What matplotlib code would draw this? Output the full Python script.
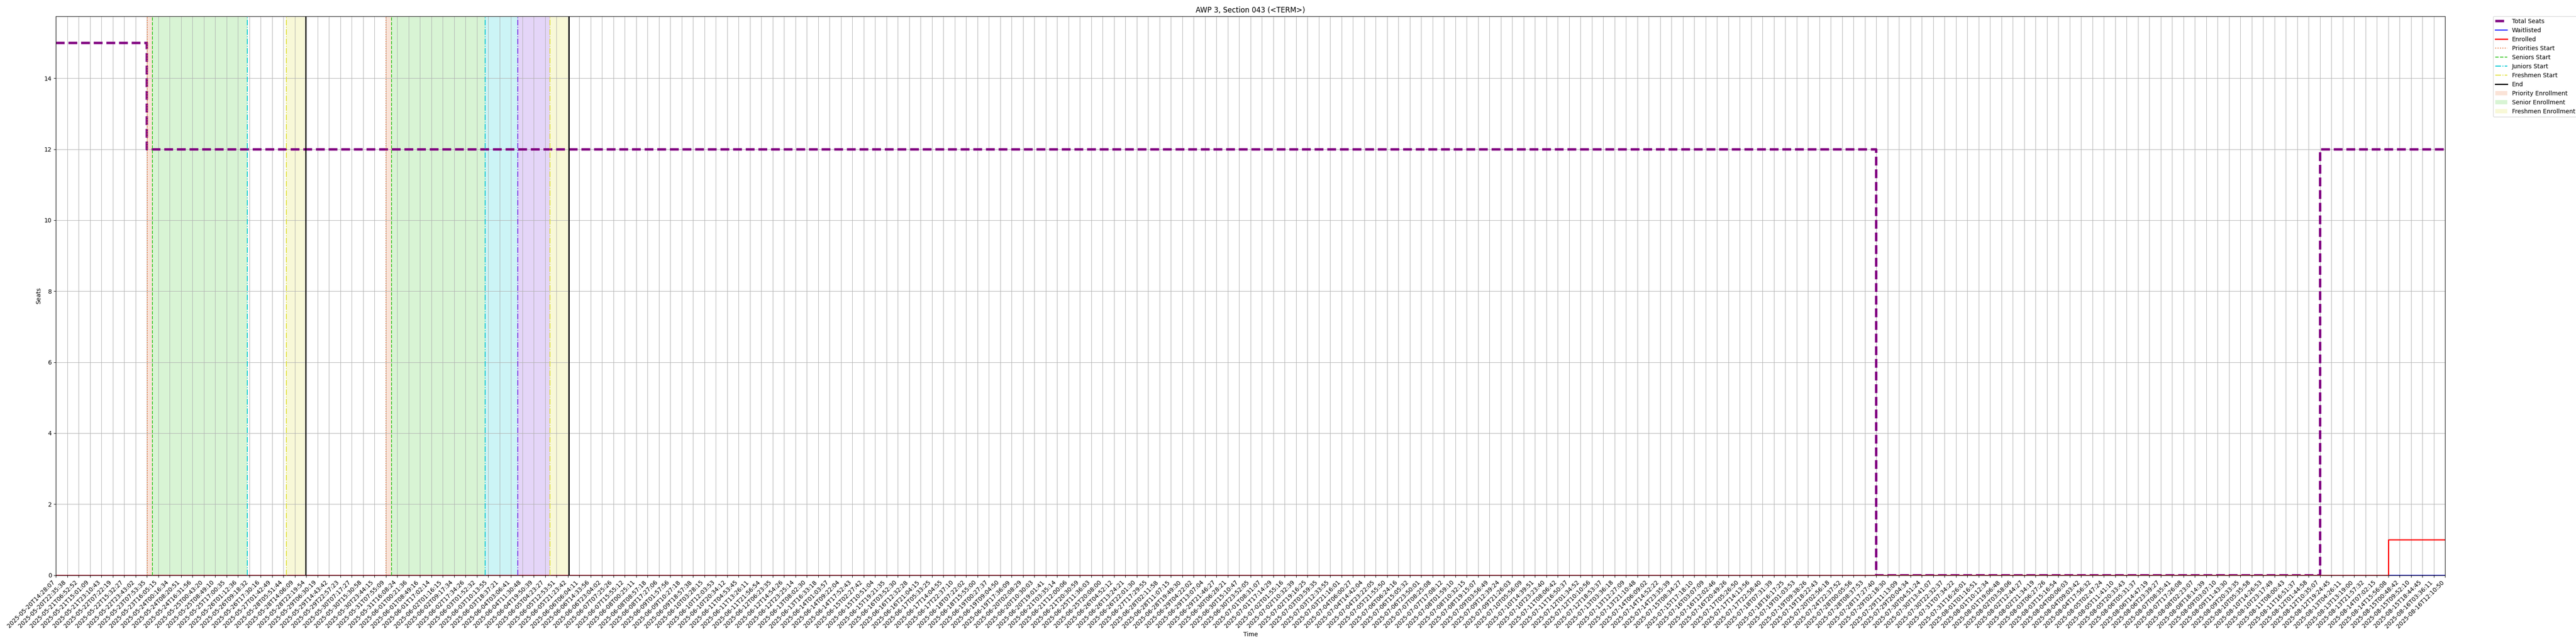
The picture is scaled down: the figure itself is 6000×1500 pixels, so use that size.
import numpy as np
import pandas as pd
import matplotlib
matplotlib.use("Agg")
import matplotlib.pyplot as plt

# snapshot timestamps (x axis is one slot per snapshot)
timestamps = [
    "2025-05-20T14:28:07", "2025-05-20T22:35:38", "2025-05-21T06:52:52", "2025-05-21T15:01:09",
    "2025-05-21T23:10:43", "2025-05-22T07:22:19", "2025-05-22T15:32:27", "2025-05-22T23:43:02",
    "2025-05-23T07:53:35", "2025-05-23T16:05:15", "2025-05-24T00:16:34", "2025-05-24T08:20:51",
    "2025-05-24T16:31:56", "2025-05-25T00:43:20", "2025-05-25T08:49:10", "2025-05-25T17:00:35",
    "2025-05-26T01:12:36", "2025-05-26T09:18:32", "2025-05-26T17:30:16", "2025-05-27T01:42:49",
    "2025-05-28T05:51:44", "2025-05-28T14:06:09", "2025-05-28T22:19:54", "2025-05-29T06:30:19",
    "2025-05-29T14:43:42", "2025-05-29T22:57:23", "2025-05-30T07:17:27", "2025-05-30T15:30:58",
    "2025-05-30T23:44:15", "2025-05-31T07:55:09", "2025-05-31T16:08:24", "2025-06-01T00:21:36",
    "2025-06-01T08:49:16", "2025-06-01T17:02:14", "2025-06-02T01:16:15", "2025-06-02T09:17:34",
    "2025-06-02T17:34:26", "2025-06-03T01:52:32", "2025-06-03T10:13:55", "2025-06-03T18:37:21",
    "2025-06-04T03:06:41", "2025-06-04T11:30:48", "2025-06-04T19:50:39", "2025-06-05T04:23:27",
    "2025-06-05T12:53:51", "2025-06-05T21:23:42", "2025-06-06T06:04:11", "2025-06-06T14:33:56",
    "2025-06-06T23:04:02", "2025-06-07T07:25:26", "2025-06-07T15:55:12", "2025-06-08T00:25:11",
    "2025-06-08T08:57:18", "2025-06-08T17:27:06", "2025-06-09T01:57:56", "2025-06-09T10:27:18",
    "2025-06-09T18:57:38", "2025-06-10T03:28:15", "2025-06-10T12:03:53", "2025-06-10T20:34:12",
    "2025-06-11T04:53:45", "2025-06-11T13:26:11", "2025-06-11T21:56:54", "2025-06-12T06:23:35",
    "2025-06-12T14:54:26", "2025-06-12T23:25:14", "2025-06-13T08:02:30", "2025-06-13T16:33:18",
    "2025-06-14T01:03:57", "2025-06-14T09:22:04", "2025-06-14T17:52:43", "2025-06-15T02:27:42",
    "2025-06-15T10:51:04", "2025-06-15T19:21:35", "2025-06-16T03:52:30", "2025-06-16T12:32:28",
    "2025-06-16T21:04:15", "2025-06-17T05:33:25", "2025-06-17T14:04:55", "2025-06-17T22:37:10",
    "2025-06-18T07:22:02", "2025-06-18T15:55:00", "2025-06-19T00:27:37", "2025-06-19T09:04:50",
    "2025-06-19T17:36:09", "2025-06-20T02:08:29", "2025-06-20T10:30:03", "2025-06-20T19:01:41",
    "2025-06-21T03:35:14", "2025-06-21T12:00:06", "2025-06-21T20:30:59", "2025-06-25T11:36:03",
    "2025-06-25T20:08:00", "2025-06-26T04:52:12", "2025-06-26T13:24:21", "2025-06-26T22:01:30",
    "2025-06-27T17:29:55", "2025-06-28T02:11:58", "2025-06-28T11:07:15", "2025-06-28T19:49:30",
    "2025-06-29T04:22:02", "2025-06-29T13:07:04", "2025-06-29T21:46:27", "2025-06-30T06:28:21",
    "2025-06-30T15:10:47", "2025-06-30T23:52:05", "2025-07-01T08:31:07", "2025-07-01T17:14:29",
    "2025-07-02T01:55:16", "2025-07-02T10:32:39", "2025-07-02T19:16:25", "2025-07-03T03:59:35",
    "2025-07-03T12:33:55", "2025-07-03T21:16:01", "2025-07-04T06:00:27", "2025-07-04T14:42:04",
    "2025-07-04T23:22:05", "2025-07-05T21:55:50", "2025-07-06T06:24:16", "2025-07-06T15:05:32",
    "2025-07-06T23:50:01", "2025-07-07T08:25:08", "2025-07-07T17:08:12", "2025-07-08T01:59:10",
    "2025-07-08T10:32:15", "2025-07-08T19:15:07", "2025-07-09T03:56:49", "2025-07-09T12:39:24",
    "2025-07-09T21:26:03", "2025-07-10T05:56:09", "2025-07-10T14:39:51", "2025-07-10T23:23:40",
    "2025-07-11T08:06:42", "2025-07-11T16:50:37", "2025-07-12T01:34:52", "2025-07-12T10:10:56",
    "2025-07-12T18:53:37", "2025-07-13T03:36:18", "2025-07-13T12:27:09", "2025-07-13T21:10:48",
    "2025-07-14T06:09:02", "2025-07-14T14:52:22", "2025-07-14T23:35:39", "2025-07-15T08:34:27",
    "2025-07-15T17:18:10", "2025-07-16T03:07:09", "2025-07-16T12:02:46", "2025-07-16T20:49:26",
    "2025-07-17T05:26:50", "2025-07-17T14:13:56", "2025-07-17T22:58:40", "2025-07-18T07:31:39",
    "2025-07-18T16:17:25", "2025-07-19T01:03:53", "2025-07-19T09:38:26", "2025-07-19T18:22:43",
    "2025-07-20T02:56:18", "2025-07-24T22:37:52", "2025-07-28T00:05:56", "2025-07-28T08:37:53",
    "2025-07-28T17:27:40", "2025-07-29T02:18:30", "2025-07-29T11:13:09", "2025-07-29T20:04:34",
    "2025-07-30T04:51:24", "2025-07-30T13:41:07", "2025-07-30T22:32:37", "2025-07-31T07:34:22",
    "2025-07-31T16:26:01", "2025-08-01T01:16:51", "2025-08-01T10:12:34", "2025-08-01T19:06:48",
    "2025-08-02T03:58:06", "2025-08-02T12:44:27", "2025-08-02T21:34:19", "2025-08-03T06:27:26",
    "2025-08-03T15:16:54", "2025-08-04T00:06:03", "2025-08-04T09:03:42", "2025-08-04T17:56:32",
    "2025-08-05T02:47:24", "2025-08-05T11:41:10", "2025-08-05T20:33:43", "2025-08-06T05:31:37",
    "2025-08-06T14:47:19", "2025-08-06T23:39:27", "2025-08-07T08:35:41", "2025-08-07T17:26:08",
    "2025-08-08T02:23:07", "2025-08-08T18:14:39", "2025-08-09T03:07:10", "2025-08-09T11:43:30",
    "2025-08-09T20:33:35", "2025-08-10T05:35:58", "2025-08-10T14:26:53", "2025-08-10T23:17:49",
    "2025-08-11T08:00:43", "2025-08-11T16:51:37", "2025-08-12T01:44:58", "2025-08-12T10:35:07",
    "2025-08-12T19:24:45", "2025-08-13T04:26:11", "2025-08-13T13:19:00", "2025-08-13T21:57:32",
    "2025-08-14T07:02:15", "2025-08-14T15:56:08", "2025-08-15T00:48:42", "2025-08-15T09:52:10",
    "2025-08-15T18:44:45", "2025-08-16T03:36:11", "2025-08-16T12:10:50",
]

# seat counts per snapshot (run lengths)
total_seats = [15] * 8 + [12] * 152 + [0] * 39 + [12] * 12
waitlisted = [0] * 211
enrolled = [0] * 205 + [1] * 6

# registration windows
pass1 = {"Priorities": "2025-05-23T08:00", "Seniors": "2025-05-23T12:00",
         "Juniors": "2025-05-26T08:00", "Freshmen": "2025-05-28T08:00",
         "End": "2025-05-28T22:00"}
pass2 = {"Priorities": "2025-05-31T08:00", "Seniors": "2025-05-31T12:00",
         "Juniors": "2025-06-03T08:00", "Sophomores": "2025-06-04T08:00",
         "Freshmen": "2025-06-05T08:00", "End": "2025-06-05T22:00"}

colors = {"Priorities": "#e8743b", "Seniors": "#3cc82a", "Juniors": "#00c8d2",
          "Sophomores": "#7a2ee0", "Freshmen": "#e0e03a", "End": "black"}
styles = {"Priorities": ":", "Seniors": "--", "Juniors": "-.",
          "Sophomores": "-.", "Freshmen": "-.", "End": "-"}

ts = pd.to_datetime(timestamps)
x = np.arange(len(ts))
t_num = ts.astype("int64").to_numpy()


def to_x(when):
    # place an event between the two snapshots around it
    return np.interp(pd.Timestamp(when).value, t_num, x)


fig, ax = plt.subplots(figsize=(60, 15), dpi=100)
fig.subplots_adjust(left=0.0217, right=0.9492, top=0.975, bottom=0.107)

ax.plot(x, total_seats, color="purple", linestyle="--", linewidth=4,
        drawstyle="steps-post", label="Total Seats")
ax.plot(x, waitlisted, color="blue", linewidth=1.5,
        drawstyle="steps-post", label="Waitlisted")
ax.plot(x, enrolled, color="red", linewidth=2,
        drawstyle="steps-post", label="Enrolled")

for i, events in enumerate([pass1, pass2]):
    for name, when in events.items():
        lbl = ("End" if name == "End" else name + " Start") if i == 0 else "_nolegend_"
        ax.axvline(to_x(when), color=colors[name], linestyle=styles[name],
                   linewidth=2 if name == "End" else 1.5, label=lbl)

spans = [("Priorities", "Seniors", "Priority Enrollment"),
         ("Seniors", "Juniors", "Senior Enrollment"),
         ("Juniors", "Sophomores", "Junior Enrollment"),
         ("Sophomores", "Freshmen", "Sophomore Enrollment"),
         ("Freshmen", "End", "Freshmen Enrollment")]
for i, events in enumerate([pass1, pass2]):
    for start, stop, name in spans:
        if start not in events or stop not in events:
            continue
        ax.axvspan(to_x(events[start]), to_x(events[stop]), color=colors[start],
                   alpha=0.2, linewidth=0, label=name if i == 0 else "_nolegend_")

ax.set_xticks(x)
ax.set_xticklabels(timestamps, rotation=45, ha="right")
ax.set_xlim(x[0], x[-1])
ax.set_ylim(0, 15.75)
ax.grid(True)
ax.set_title("AWP 3, Section 043 (<TERM>)")
ax.set_xlabel("Time")
ax.set_ylabel("Seats")
ax.legend(bbox_to_anchor=(1.02, 1), loc="upper left", borderaxespad=0)

fig.savefig("out.png", dpi=100)
